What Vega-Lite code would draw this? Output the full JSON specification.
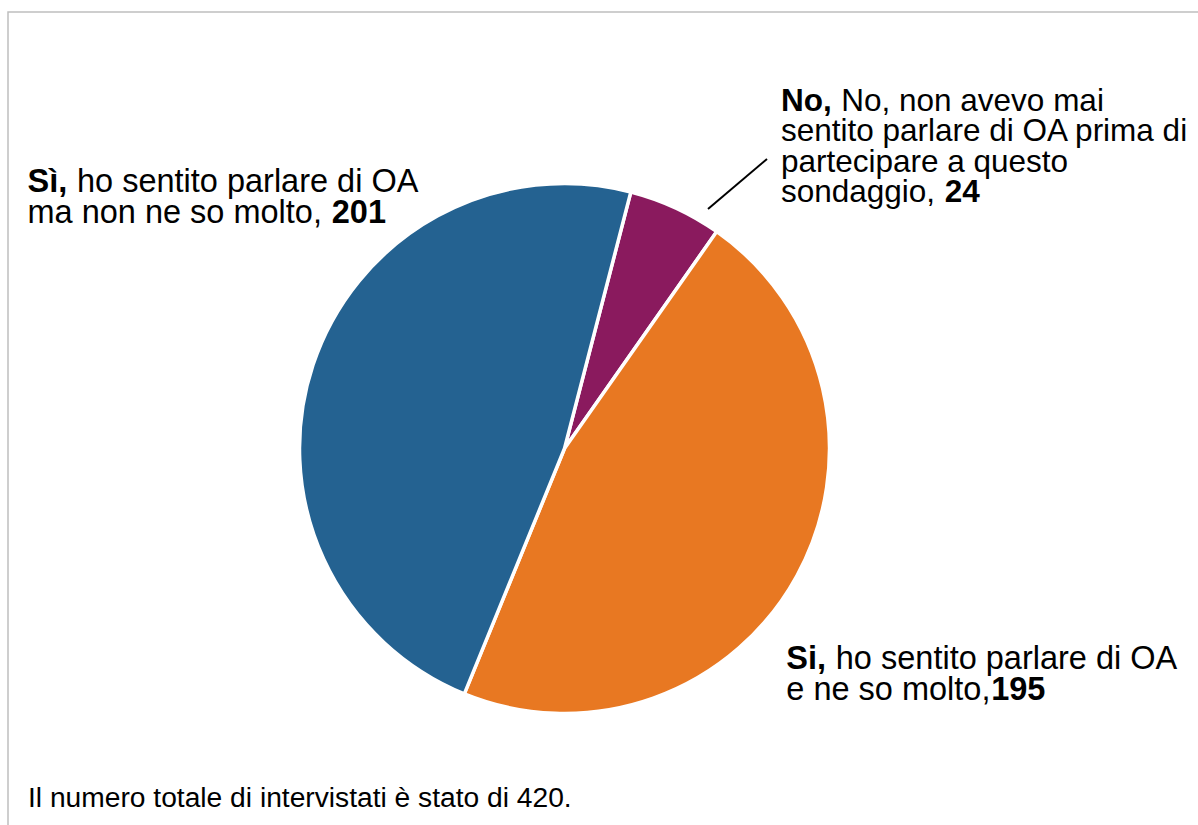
{
  "$schema": "https://vega.github.io/schema/vega-lite/v6.json",
  "width": 1200,
  "height": 873,
  "autosize": {"type": "none"},
  "padding": {"left": 8, "top": 12, "right": 0, "bottom": 0},
  "background": "white",
  "view": {"stroke": "#BFBFBF", "strokeWidth": 1.5, "fill": "white"},
  "config": {
    "view": {"stroke": "#BFBFBF", "strokeWidth": 1.5},
    "font": "Liberation Sans",
    "text": {"font": "Liberation Sans", "color": "#000000"}
  },
  "title": {
    "text": "Il numero totale di intervistati è stato di 420.",
    "orient": "bottom",
    "anchor": "start",
    "frame": "group",
    "offset": -78.3,
    "dx": 20,
    "baseline": "alphabetic",
    "fontSize": 28.2,
    "fontWeight": "normal",
    "font": "Liberation Sans",
    "color": "#000000"
  },
  "data": {
    "values": [
      {"risposta": "No, non avevo mai sentito parlare di OA prima di partecipare a questo sondaggio", "n": 24, "ord": 1},
      {"risposta": "Si, ho sentito parlare di OA e ne so molto", "n": 195, "ord": 2},
      {"risposta": "Sì, ho sentito parlare di OA ma non ne so molto", "n": 201, "ord": 3}
    ]
  },
  "layer": [
    {
      "mark": {"type": "arc", "outerRadius": 265, "stroke": "white", "strokeWidth": 3.5, "x": {"expr": "width/2-43.5"}, "y": {"expr": "height/2"}},
      "encoding": {
        "theta": {"field": "n", "type": "quantitative", "stack": true, "scale": {"range": [0.253, 6.5362], "nice": false, "zero": true}},
        "order": {"field": "ord", "type": "quantitative"},
        "color": {"field": "risposta", "type": "nominal", "legend": null,
          "scale": {"domain": ["No, non avevo mai sentito parlare di OA prima di partecipare a questo sondaggio", "Si, ho sentito parlare di OA e ne so molto", "Sì, ho sentito parlare di OA ma non ne so molto"],
                    "range": ["#8A1A5E", "#E87822", "#246291"]}}
      }
    },
    {
      "mark": {"type": "text", "x": {"expr": "width/2-43.5"}, "y": {"expr": "height/2"}, "radius": 300, "align": "left", "baseline": "alphabetic", "dx": 90.7, "dy": -65.5, "fontSize": 31.5, "fontWeight": "bold", "lineHeight": 30.5},
      "encoding": {
        "theta": {"field": "n", "type": "quantitative", "stack": true},
        "order": {"field": "ord", "type": "quantitative"},
        "text": {"condition": {"test": "datum.ord==1", "value": "No,"}, "value": ""}
      }
    },
    {
      "mark": {"type": "text", "x": {"expr": "width/2-43.5"}, "y": {"expr": "height/2"}, "radius": 300, "align": "left", "baseline": "alphabetic", "dx": 151, "dy": -65.5, "fontSize": 31.5, "fontWeight": "normal", "lineHeight": 30.5},
      "encoding": {
        "theta": {"field": "n", "type": "quantitative", "stack": true},
        "order": {"field": "ord", "type": "quantitative"},
        "text": {"condition": {"test": "datum.ord==1", "value": "No, non avevo mai"}, "value": ""}
      }
    },
    {
      "mark": {"type": "text", "x": {"expr": "width/2-43.5"}, "y": {"expr": "height/2"}, "radius": 300, "align": "left", "baseline": "alphabetic", "dx": 90.7, "dy": -35, "fontSize": 31.5, "fontWeight": "normal", "lineHeight": 30.5},
      "encoding": {
        "theta": {"field": "n", "type": "quantitative", "stack": true},
        "order": {"field": "ord", "type": "quantitative"},
        "text": {"condition": {"test": "datum.ord==1", "value": ["sentito parlare di OA prima di", "partecipare a questo", "sondaggio,"]}, "value": ""}
      }
    },
    {
      "mark": {"type": "text", "x": {"expr": "width/2-43.5"}, "y": {"expr": "height/2"}, "radius": 300, "align": "left", "baseline": "alphabetic", "dx": 254.5, "dy": 26, "fontSize": 31.5, "fontWeight": "bold", "lineHeight": 30.5},
      "encoding": {
        "theta": {"field": "n", "type": "quantitative", "stack": true},
        "order": {"field": "ord", "type": "quantitative"},
        "text": {"condition": {"test": "datum.ord==1", "value": "24"}, "value": ""}
      }
    },
    {
      "mark": {"type": "text", "x": {"expr": "width/2-43.5"}, "y": {"expr": "height/2"}, "radius": 300, "align": "left", "baseline": "alphabetic", "dx": -41.5, "dy": 77, "fontSize": 32.5, "fontWeight": "bold", "lineHeight": 30.7},
      "encoding": {
        "theta": {"field": "n", "type": "quantitative", "stack": true},
        "order": {"field": "ord", "type": "quantitative"},
        "text": {"condition": {"test": "datum.ord==2", "value": "Si,"}, "value": ""}
      }
    },
    {
      "mark": {"type": "text", "x": {"expr": "width/2-43.5"}, "y": {"expr": "height/2"}, "radius": 300, "align": "left", "baseline": "alphabetic", "dx": 8, "dy": 77, "fontSize": 32.5, "fontWeight": "normal", "lineHeight": 30.7},
      "encoding": {
        "theta": {"field": "n", "type": "quantitative", "stack": true},
        "order": {"field": "ord", "type": "quantitative"},
        "text": {"condition": {"test": "datum.ord==2", "value": "ho sentito parlare di OA"}, "value": ""}
      }
    },
    {
      "mark": {"type": "text", "x": {"expr": "width/2-43.5"}, "y": {"expr": "height/2"}, "radius": 300, "align": "left", "baseline": "alphabetic", "dx": -41.5, "dy": 107.7, "fontSize": 32.5, "fontWeight": "normal", "lineHeight": 30.7},
      "encoding": {
        "theta": {"field": "n", "type": "quantitative", "stack": true},
        "order": {"field": "ord", "type": "quantitative"},
        "text": {"condition": {"test": "datum.ord==2", "value": "e ne so molto,"}, "value": ""}
      }
    },
    {
      "mark": {"type": "text", "x": {"expr": "width/2-43.5"}, "y": {"expr": "height/2"}, "radius": 300, "align": "left", "baseline": "alphabetic", "dx": 163.4, "dy": 107.7, "fontSize": 32.5, "fontWeight": "bold", "lineHeight": 30.7},
      "encoding": {
        "theta": {"field": "n", "type": "quantitative", "stack": true},
        "order": {"field": "ord", "type": "quantitative"},
        "text": {"condition": {"test": "datum.ord==2", "value": "195"}, "value": ""}
      }
    },
    {
      "mark": {"type": "text", "x": {"expr": "width/2-43.5"}, "y": {"expr": "height/2"}, "radius": 300, "align": "left", "baseline": "alphabetic", "dx": -252.3, "dy": -161.7, "fontSize": 32.5, "fontWeight": "bold", "lineHeight": 30.7},
      "encoding": {
        "theta": {"field": "n", "type": "quantitative", "stack": true},
        "order": {"field": "ord", "type": "quantitative"},
        "text": {"condition": {"test": "datum.ord==3", "value": "Sì,"}, "value": ""}
      }
    },
    {
      "mark": {"type": "text", "x": {"expr": "width/2-43.5"}, "y": {"expr": "height/2"}, "radius": 300, "align": "left", "baseline": "alphabetic", "dx": -202.8, "dy": -161.7, "fontSize": 32.5, "fontWeight": "normal", "lineHeight": 30.7},
      "encoding": {
        "theta": {"field": "n", "type": "quantitative", "stack": true},
        "order": {"field": "ord", "type": "quantitative"},
        "text": {"condition": {"test": "datum.ord==3", "value": "ho sentito parlare di OA"}, "value": ""}
      }
    },
    {
      "mark": {"type": "text", "x": {"expr": "width/2-43.5"}, "y": {"expr": "height/2"}, "radius": 300, "align": "left", "baseline": "alphabetic", "dx": -252.3, "dy": -131, "fontSize": 32.5, "fontWeight": "normal", "lineHeight": 30.7},
      "encoding": {
        "theta": {"field": "n", "type": "quantitative", "stack": true},
        "order": {"field": "ord", "type": "quantitative"},
        "text": {"condition": {"test": "datum.ord==3", "value": "ma non ne so molto,"}, "value": ""}
      }
    },
    {
      "mark": {"type": "text", "x": {"expr": "width/2-43.5"}, "y": {"expr": "height/2"}, "radius": 300, "align": "left", "baseline": "alphabetic", "dx": 52, "dy": -131, "fontSize": 32.5, "fontWeight": "bold", "lineHeight": 30.7},
      "encoding": {
        "theta": {"field": "n", "type": "quantitative", "stack": true},
        "order": {"field": "ord", "type": "quantitative"},
        "text": {"condition": {"test": "datum.ord==3", "value": "201"}, "value": ""}
      }
    },
    {
      "data": {"values": [{"leader": "No"}]},
      "mark": {"type": "rule", "strokeWidth": 2, "color": "#000000"},
      "encoding": {
        "x": {"value": 700},
        "y": {"value": 197},
        "x2": {"value": 759},
        "y2": {"value": 147}
      }
    }
  ]
}
